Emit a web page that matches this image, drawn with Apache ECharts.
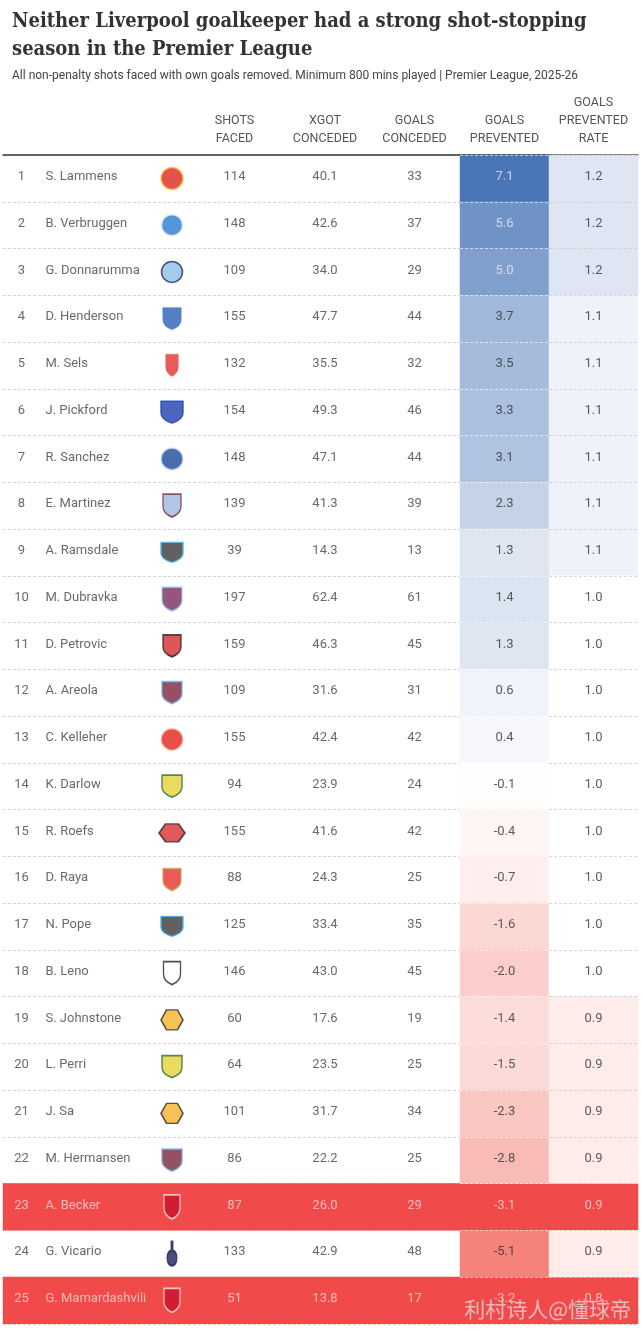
<!DOCTYPE html>
<html><head><meta charset="utf-8">
<script src="https://cdn.jsdelivr.net/npm/echarts@6/dist/echarts.min.js"></script>
<style>html,body{margin:0;padding:0;background:#fff}#c{width:642px;height:1332px}</style>
</head><body><div id="c"></div>
<script>
// ---------------- DATA ----------------
const ranks = [1,2,3,4,5,6,7,8,9,10,11,12,13,14,15,16,17,18,19,20,21,22,23,24,25];
const players = ['S. Lammens','B. Verbruggen','G. Donnarumma','D. Henderson','M. Sels','J. Pickford','R. Sanchez','E. Martinez','A. Ramsdale','M. Dubravka','D. Petrovic','A. Areola','C. Kelleher','K. Darlow','R. Roefs','D. Raya','N. Pope','B. Leno','S. Johnstone','L. Perri','J. Sa','M. Hermansen','A. Becker','G. Vicario','G. Mamardashvili'];
const teams = ['MUN','BHA','MCI','CRY','NFO','EVE','CHE','AVL','NEW','BUR','BOU','WHU','BRE','LEE','SUN','ARS','NEW','FUL','WOL','LEE','WOL','WHU','LIV','TOT','LIV'];
const shotsFaced = [114,148,109,155,132,154,148,139,39,197,159,109,155,94,155,88,125,146,60,64,101,86,87,133,51];
const xgotConceded = [40.1,42.6,34.0,47.7,35.5,49.3,47.1,41.3,14.3,62.4,46.3,31.6,42.4,23.9,41.6,24.3,33.4,43.0,17.6,23.5,31.7,22.2,26.0,42.9,13.8];
const goalsConceded = [33,37,29,44,32,46,44,39,13,61,45,31,42,24,42,25,35,45,19,25,34,25,29,48,17];
const goalsPrevented = [7.1,5.6,5.0,3.7,3.5,3.3,3.1,2.3,1.3,1.4,1.3,0.6,0.4,-0.1,-0.4,-0.7,-1.6,-2.0,-1.4,-1.5,-2.3,-2.8,-3.1,-5.1,-3.2];
const preventedRate = [1.2,1.2,1.2,1.1,1.1,1.1,1.1,1.1,1.1,1.0,1.0,1.0,1.0,1.0,1.0,1.0,1.0,1.0,0.9,0.9,0.9,0.9,0.9,0.9,0.8];
const highlightTeam = 'LIV';
const headerLabels = {shots:'SHOTS\nFACED', xgot:'XGOT\nCONCEDED', goals:'GOALS\nCONCEDED', gp:'GOALS\nPREVENTED', rate:'GOALS\nPREVENTED\nRATE'};
const titleText = 'Neither Liverpool goalkeeper had a strong shot-stopping\nseason in the Premier League';
const subtitleText = 'All non-penalty shots faced with own goals removed. Minimum 800 mins played | Premier League, 2025-26';
const watermarkText = '利村诗人@懂球帝';

// ---------------- STYLE ----------------
const SHIELD = 'path://M0,0 L20,0 L20,13 C20,19 14,22.5 10,24 C6,22.5 0,19 0,13 Z';
const HEX = 'path://M6,0 L18,0 L24,10 L18,20 L6,20 L0,10 Z';
const TALL = 'path://M4,0 L6,0 L6,8 C9,9 10,12 10,15 C10,19 8,22 5,22 C2,22 0,19 0,15 C0,12 1,9 4,8 Z';
const teamStyle = {
  MUN:{symbol:'circle', size:[22,22], color:'#da291c', border:'#f6c343'},
  BHA:{symbol:'circle', size:[21,21], color:'#2b7bd0', border:'#d9e8f7'},
  MCI:{symbol:'circle', size:[21,21], color:'#8fbfe6', border:'#1c2c5b'},
  CRY:{symbol:SHIELD, size:[20,24], color:'#2c5fb4', border:'#ffffff'},
  NFO:{symbol:SHIELD, size:[14,24], color:'#e53233', border:'#ffffff'},
  EVE:{symbol:SHIELD, size:[22,22], color:'#1f3fb0', border:'#1f3fb0'},
  CHE:{symbol:'circle', size:[22,22], color:'#1a4a9a', border:'#dbe3f0'},
  AVL:{symbol:SHIELD, size:[18,23], color:'#9db8dd', border:'#7d2a4a'},
  NEW:{symbol:SHIELD, size:[22,20], color:'#3a3a3a', border:'#41b6e6'},
  BUR:{symbol:SHIELD, size:[20,24], color:'#7a2a5c', border:'#9ad0ea'},
  BOU:{symbol:SHIELD, size:[18,22], color:'#d52b2b', border:'#222222'},
  WHU:{symbol:SHIELD, size:[20,22], color:'#7a263a', border:'#6ab0de'},
  BRE:{symbol:'circle', size:[22,22], color:'#e2231a', border:'#f5d5d0'},
  LEE:{symbol:SHIELD, size:[20,22], color:'#e3d234', border:'#2e6a3a'},
  SUN:{symbol:HEX, size:[26,18], color:'#d93030', border:'#2a2a2a'},
  ARS:{symbol:SHIELD, size:[18,22], color:'#e5322d', border:'#c9a24a'},
  FUL:{symbol:SHIELD, size:[17,23], color:'#ffffff', border:'#222222'},
  WOL:{symbol:HEX, size:[22,20], color:'#f3b32a', border:'#2a2a2a'},
  LIV:{symbol:SHIELD, size:[16,24], color:'#c8102e', border:'#e8ecd8'},
  TOT:{symbol:TALL, size:[10,24], color:'#1b2456', border:'#1b2456'}
};
const TOP = 155, ROWH = 46.75, NROW = ranks.length;
const HL_RED = '#f04a4b', HL_TEXT = '#fdd2d2', TEXT = '#444', HEAD = '#555';
const FONT = 'Roboto, "Noto Sans", sans-serif';
const cols = [
  {key:'bg', left:3, right:638},
  {key:'rank', left:3, right:40},
  {key:'name', left:45, right:155},
  {key:'logo', left:155, right:189},
  {key:'shots', left:190, right:279},
  {key:'xgot', left:280, right:370},
  {key:'goals', left:370, right:459},
  {key:'gp', left:460, right:549},
  {key:'rate', left:549, right:638}
];
const idx = {}; cols.forEach((c,i)=>idx[c.key]=i);
const isHL = i => teams[i] === highlightTeam;
const rowCats = ranks.map(String);

const grids = cols.map(c => ({left:c.left, width:c.right-c.left, top:TOP, height:NROW*ROWH}));
const xAxes = cols.map((c,i) => {
  const base = {gridIndex:i, position:'top', axisTick:{show:false}, splitLine:{show:false},
    axisLine:{show:c.key==='bg', lineStyle:{color:'#333', width:1.5}}};
  if (c.key === 'name') return Object.assign(base, {type:'value', min:0, max:1, axisLabel:{show:false}});
  return Object.assign(base, {type:'category', data:[c.key], boundaryGap:true,
    axisLabel:{show:!!headerLabels[c.key], formatter:()=>headerLabels[c.key]||'', color:HEAD,
      fontSize:12.5, lineHeight:18, fontFamily:FONT, margin:7}});
});
const yAxes = cols.map((c,i) => ({gridIndex:i, type:'category', data:rowCats, inverse:true,
  axisLine:{show:false}, axisTick:{show:false}, axisLabel:{show:false},
  z: (c.key==='gp'||c.key==='rate') ? 5 : 0,
  splitLine:{show: c.key==='bg'||c.key==='gp'||c.key==='rate',
    lineStyle:{type:[3,2], width:1, color: c.key==='gp' ? 'rgba(255,255,255,0.6)' : c.key==='rate' ? 'rgba(200,200,200,0.7)' : '#d4d4d4'}}
}));

function textSeries(key, values, fmt, colorFn, opts) {
  const gi = idx[key];
  return Object.assign({
    type:'scatter', xAxisIndex:gi, yAxisIndex:gi, symbolSize:1, z:10, silent:true,
    itemStyle:{color:'rgba(0,0,0,0)'},
    data: values.map((v,i)=>({value:[0, i, v],
      label:{color: colorFn ? colorFn(i,v) : (isHL(i)?HL_TEXT:TEXT)}})),
    label:{show:true, position:'inside', offset:[0,-1.5], fontSize:13, fontFamily:FONT,
      formatter:p=>fmt(p.value[2])}
  }, opts||{});
}

const series = [
  // Highlight rows background
  {type:'heatmap', xAxisIndex:0, yAxisIndex:0, silent:true, z:1,
   data: ranks.map((r,i)=>isHL(i)?{value:[0,i,1], itemStyle:{color:HL_RED}}:null).filter(Boolean)},
  // Goals prevented cells
  {type:'heatmap', xAxisIndex:idx.gp, yAxisIndex:idx.gp, silent:true, z:2,
   data: goalsPrevented.map((v,i)=>isHL(i)?null:[0,i,v]).filter(Boolean)},
  // Rate cells
  {type:'heatmap', xAxisIndex:idx.rate, yAxisIndex:idx.rate, silent:true, z:2,
   data: preventedRate.map((v,i)=>isHL(i)?null:[0,i,v]).filter(Boolean)},
  textSeries('rank', ranks, v=>String(v)),
  textSeries('name', players, v=>v, null, {label:{show:true, position:'right', distance:0, offset:[0,-1.5], fontSize:13, fontFamily:FONT, formatter:p=>p.value[2]}}),
  {type:'scatter', xAxisIndex:idx.logo, yAxisIndex:idx.logo, silent:true, z:10,
   data: teams.map((t,i)=>{const s=teamStyle[t]; return {value:[0,i,t], symbol:s.symbol, symbolSize:s.size,
     itemStyle:{color:s.color, borderColor:s.border, borderWidth:1.5}};})},
  textSeries('shots', shotsFaced, v=>String(v)),
  textSeries('xgot', xgotConceded, v=>v.toFixed(1)),
  textSeries('goals', goalsConceded, v=>String(v)),
  textSeries('gp', goalsPrevented, v=>v.toFixed(1), (i,v)=>isHL(i)?HL_TEXT:(v>=4.5?'#e4eaf5':'#333')),
  textSeries('rate', preventedRate, v=>v.toFixed(1), (i,v)=>isHL(i)?HL_TEXT:'#333')
];

const chart = echarts.init(document.getElementById('c'), null, {renderer:'canvas'});
chart.setOption({
  animation:false,
  backgroundColor:'#fff',
  title:[
    {text:titleText, left:7, top:3, textStyle:{fontFamily:'"DejaVu Serif Condensed", "Liberation Serif", serif', fontWeight:'bold', fontSize:20, lineHeight:28, color:'#333'}},
    {text:subtitleText, left:7, top:65, textStyle:{fontFamily:FONT, fontWeight:'normal', fontSize:12, color:'#444'}},
    {text:watermarkText, right:6, top:1294, z:20, textStyle:{fontFamily:'"Noto Sans CJK SC", sans-serif', fontWeight:'normal', fontSize:21, color:'rgba(225,215,215,0.8)'}}
  ],
  grid:grids, xAxis:xAxes, yAxis:yAxes,
  visualMap:[
    {type:'continuous', show:false, seriesIndex:1, dimension:2, min:-7.1, max:7.1, inRange:{color:['#f15246','#ffffff','#4a76b8']}},
    {type:'continuous', show:false, seriesIndex:2, dimension:2, min:0.8, max:1.2, inRange:{color:['#fbd9d5','#ffffff','#dfe5f2']}}
  ],
  series:series
});
</script></body></html>
